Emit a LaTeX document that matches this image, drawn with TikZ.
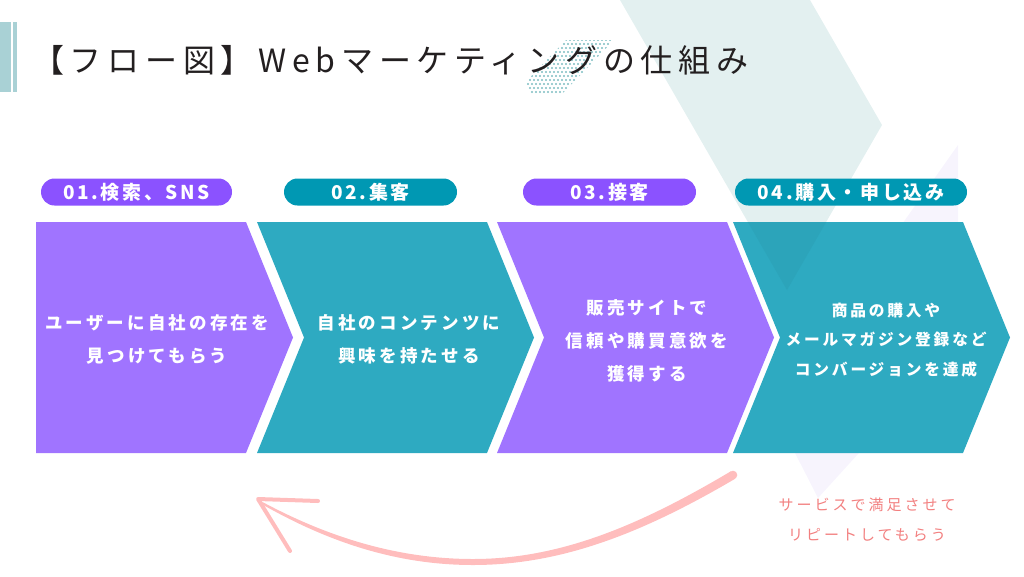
\documentclass[tikz,border=0pt]{standalone}
\usepackage{fontspec}
\setmainfont{Noto Sans CJK JP}
\newfontfamily\titlejp[LetterSpace=18]{Noto Sans CJK JP}
\newfontfamily\pilljp[LetterSpace=14]{Noto Sans CJK JP}
\newfontfamily\boxjp[LetterSpace=18]{Noto Sans CJK JP}
\newfontfamily\notejp[LetterSpace=20]{Noto Sans CJK JP}
\usetikzlibrary{shapes.symbols,positioning}

\definecolor{chvpurple}{HTML}{A074FF}
\definecolor{pillpurple}{HTML}{8B52FF}
\definecolor{chvteal}{HTML}{2EAAC1}
\definecolor{chvtealdk}{HTML}{2CA4BA}
\definecolor{pillteal}{HTML}{0098B3}
\definecolor{bgteal}{HTML}{E3F0F0}
\definecolor{bglav}{HTML}{F7F4FD}
\definecolor{barteal}{HTML}{A9D1D5}
\definecolor{dotteal}{HTML}{7DBDC2}
\definecolor{arrowpink}{HTML}{FFBDBD}
\definecolor{notepink}{HTML}{F27F7F}
\definecolor{titleink}{HTML}{231F20}

\begin{document}
\begin{tikzpicture}[x=1pt,y=-1pt]

        \tikzstyle{every node}=[inner sep=0pt,outer sep=0pt]
        \tikzstyle{chev}=[signal,signal to=east,signal pointer angle=135.7,minimum height=231pt]
        \tikzstyle{pill}=[rounded corners=13.5pt,minimum height=27pt,text=white,font=\pilljp\bfseries\fontsize{19}{22}\selectfont]
        \tikzstyle{body}=[text=white,align=center]

        \useasboundingbox (0,0) rectangle (1024,576);

        \fill[bgteal] (620,0) -- (810,0) -- (882,125) -- (787,290) -- cycle;
        \fill[bglav] (958,145) -- (958,344) -- (818,498) -- (772,408) -- cycle;

        \begin{scope}
            \clip (566,40) -- (614,40) -- (562,94) -- (514,94) -- cycle;
            \foreach \u in {0,...,26}
                \foreach \v in {0,...,13}
                    \fill[dotteal] (506+\u*4+\v*2, 40+\v*4) circle (1.1);
        \end{scope}

        \fill[barteal] (0,22) rectangle (11,92);
        \fill[barteal] (13,22) rectangle (17,92);
        \node[anchor=base west,text=titleink,font=\titlejp\fontsize{32}{36}\selectfont] (title) at (32,72) {【フロー図】Webマーケティングの仕組み};

        \foreach \n / \cx / \w / \from / \col / \px / \pw / \pcol / \lab in {
            1/141/257/nowhere/chvpurple/136.5/191/pillpurple/{01.検索、SNS},
            2/395.5/277/west/chvteal/370.5/173/pillteal/{02.集客},
            3/635.5/277/west/chvpurple/609.5/173/pillpurple/{03.接客},
            4/871.5/277/west/chvteal/851/232/pillteal/{04.購入・申し込み}} {
            \node[chev,signal from=\from,minimum width=\w pt,fill=\col] (ch_\n) at (\cx, 337.5) {};
            \node[pill,minimum width=\pw pt,fill=\pcol] (p_\n) at (\px, 192) {\lab};
        }

        \begin{scope}
            \clip (620,0) -- (810,0) -- (882,125) -- (787,290) -- cycle;
            \node[chev,signal from=west,minimum width=277pt,fill=chvtealdk] at (871.5, 337.5) {};
        \end{scope}

        \node[body,font=\boxjp\bfseries\fontsize{17.5}{33}\selectfont] (t_1) at (157, 339.5) {ユーザーに自社の存在を\\見つけてもらう};
        \node[body,font=\boxjp\bfseries\fontsize{17.5}{33}\selectfont] (t_2) at (409, 339.5) {自社のコンテンツに\\興味を持たせる};
        \node[body,font=\boxjp\bfseries\fontsize{17.5}{33}\selectfont] (t_3) at (647, 341) {販売サイトで\\信頼や購買意欲を\\獲得する};
        \node[body,font=\boxjp\bfseries\fontsize{15.7}{29.5}\selectfont] (t_4) at (886, 340) {商品の購入や\\メールマガジン登録など\\コンバージョンを達成};

        \node[align=center,text=notepink,font=\notejp\fontsize{15}{30}\selectfont] (note) at (867, 520) {サービスで満足させて\\リピートしてもらう};

        \coordinate (arr_s) at (733,475);
        \coordinate (arr_t) at (258,499);
        \fill[arrowpink] (735.2,478.7) .. controls (642,533.5) and (561,565) .. (473,565)
            .. controls (389,565) and (319.5,537) .. (261.5,504) -- (262.5,502)
            .. controls (320.5,533) and (391,559) .. (473,559)
            .. controls (559,559) and (638,526.5) .. (730.8,471.3) -- cycle;
        \fill[arrowpink] (arr_s) circle (4.3);
        \draw[arrowpink,line width=4pt,line cap=round,line join=round] (318,501) -- (arr_t) -- (290,551);

    \end{tikzpicture}
\end{document}
